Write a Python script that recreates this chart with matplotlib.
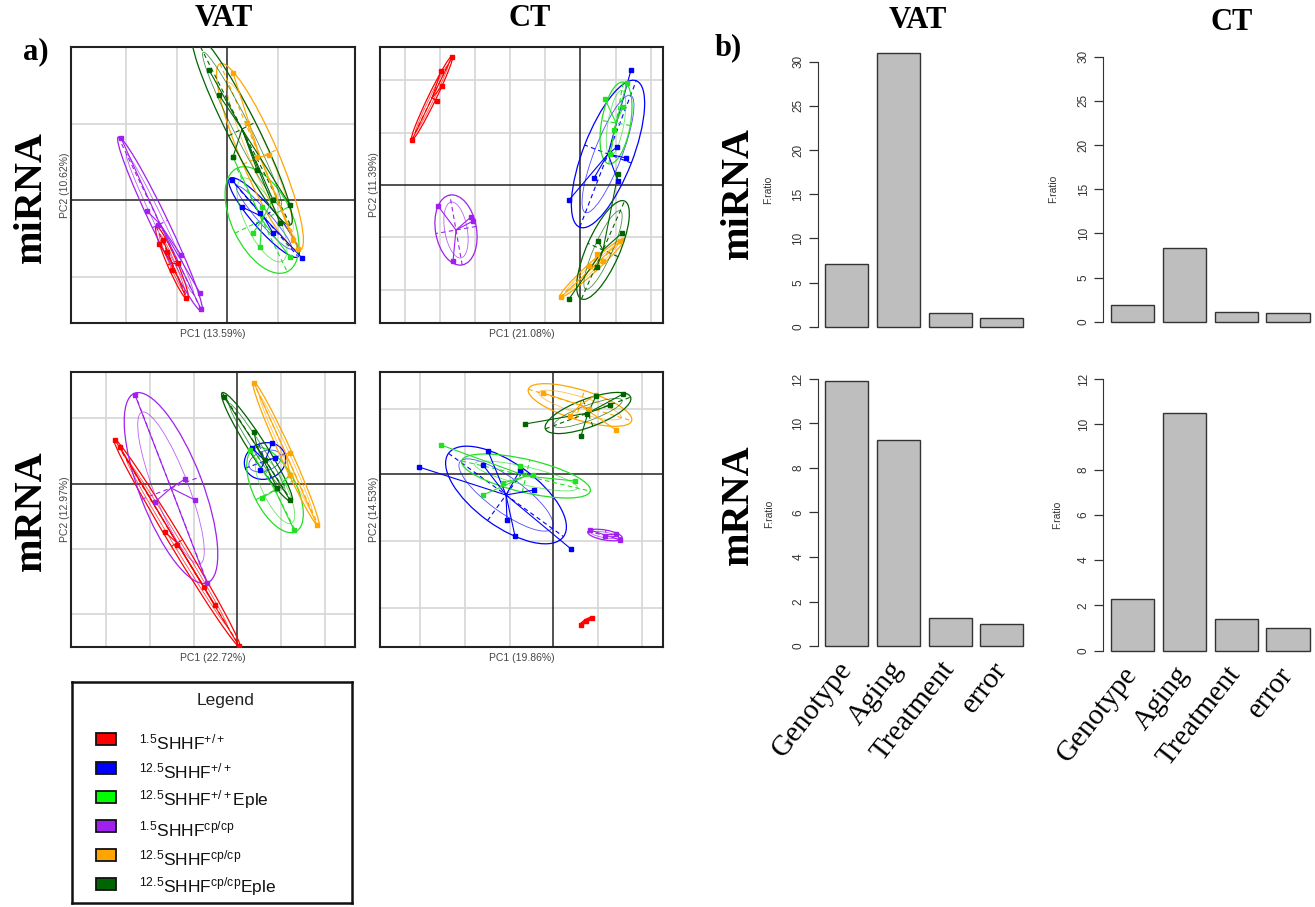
import numpy as np
import matplotlib
matplotlib.use("Agg")
import matplotlib.pyplot as plt
from matplotlib.patches import Ellipse, Rectangle

plt.rcParams['font.family'] = ['Liberation Sans', 'DejaVu Sans']
plt.rcParams['mathtext.fontset'] = 'custom'
plt.rcParams['mathtext.rm'] = 'Liberation Sans'
plt.rcParams['mathtext.it'] = 'Liberation Sans:italic'
plt.rcParams['mathtext.bf'] = 'Liberation Sans:bold'

W, H = 1315, 907

# ---------------- data ----------------
GROUPS = ['red', 'blue', 'green', 'purple', 'orange', 'darkgreen']
GROUP_COLORS = ['#ff0000', '#0000ff', '#22e022', '#a020f0', '#ffa500', '#006400']
LEGEND_COLORS = ['#ff0000', '#0000ff', '#00ff00', '#a020f0', '#ffa500', '#006400']
LEGEND_LABELS = [r'$^{\mathrm{1.5}}$SHHF$^{\mathrm{+/+}}$',
                 r'$^{\mathrm{12.5}}$SHHF$^{\mathrm{+/+}}$',
                 r'$^{\mathrm{12.5}}$SHHF$^{\mathrm{+/+}}$Eple',
                 r'$^{\mathrm{1.5}}$SHHF$^{\mathrm{cp/cp}}$',
                 r'$^{\mathrm{12.5}}$SHHF$^{\mathrm{cp/cp}}$',
                 r'$^{\mathrm{12.5}}$SHHF$^{\mathrm{cp/cp}}$Eple']

# PCA scores (PC1, PC2) per group; ellipses: (centre PC1, centre PC2, length, width, angle)
VAT_MIRNA_PTS = {
    'red': [(-6.8, -4.4), (-6.4, -4.0), (-6.0, -5.2), (-4.9, -6.3), (-4.1, -9.8), (-5.5, -7.0)],
    'blue': [(0.5, 2.0), (1.5, -0.7), (7.5, -5.8), (3.3, -1.3), (4.6, -3.3)],
    'green': [(0.6, 4.3), (2.6, -3.3), (3.3, -4.7), (3.5, -0.7), (6.3, -5.7), (4.6, 0.1)],
    'purple': [(-10.6, 6.2), (-8.0, -1.1), (-6.9, -2.5), (-4.6, -5.5), (-2.7, -9.3), (-2.6, -10.9)],
    'orange': [(0.6, 12.7), (2.0, 7.7), (3.0, 4.3), (4.2, 4.5), (6.6, -4.0), (7.1, -4.9)],
    'darkgreen': [(-1.8, 13.0), (-0.8, 10.5), (0.6, 4.3), (3.0, 3.0), (4.6, 0.0), (6.3, -0.5), (5.3, -2.3)],
}
VAT_MIRNA_ELL = {
    'red': (-5.5, -6.3, 8.0, 1.0, -66.6), 'blue': (3.7, -1.75, 10.4, 2.3, -48.9),
    'green': (3.5, -2.0, 11.5, 6.0, -64.0), 'purple': (-6.7, -2.4, 19.3, 1.7, -64.4),
    'orange': (3.3, 4.3, 20.3, 3.7, -66.8), 'darkgreen': (1.5, 7.1, 21.5, 3.0, -63.2),
}
CT_MIRNA_PTS = {
    'red': [(-16.8, 4.5), (-13.9, 11.4), (-13.8, 9.9), (-14.3, 8.4), (-12.8, 12.8)],
    'blue': [(-1.1, -1.5), (1.4, 0.7), (5.1, 11.5), (4.6, 2.7), (3.7, 3.8), (3.8, 0.4)],
    'green': [(2.5, 8.6), (4.7, 10.2), (3.0, 3.1), (4.3, 7.8), (3.4, 5.5)],
    'purple': [(-14.2, -2.1), (-10.7, -3.6), (-12.7, -7.6), (-10.9, -3.2)],
    'orange': [(-1.9, -11.2), (1.7, -6.9), (4.0, -5.6), (0.9, -8.1), (2.3, -7.6)],
    'darkgreen': [(-1.1, -11.4), (3.8, 1.1), (4.2, -4.8), (1.8, -5.6), (1.7, -8.2)],
}
CT_MIRNA_ELL = {
    'red': (-14.8, 8.7, 9.4, 0.8, 64.2), 'blue': (2.8, 3.1, 15.7, 5.0, 68.9),
    'green': (3.6, 6.2, 8.3, 2.9, 80.0), 'purple': (-12.4, -4.5, 7.1, 4.1, 100.0),
    'orange': (1.2, -8.3, 8.7, 1.0, 42.3), 'darkgreen': (2.3, -6.5, 10.7, 3.3, 66.2),
}
VAT_MRNA_PTS = {
    'red': [(-12.2, 4.4), (-11.7, 3.7), (-7.2, -4.8), (-6.0, -6.1), (-3.3, -10.3), (-2.2, -12.1), (0.2, -16.2)],
    'blue': [(1.5, 3.6), (3.8, 2.6), (2.3, 1.4), (3.5, 4.1)],
    'green': [(1.3, 3.4), (2.5, -1.4), (5.7, -4.6), (5.3, 0.9), (3.9, -0.5)],
    'purple': [(-10.2, 8.9), (-8.2, -1.8), (-5.2, 0.5), (-4.2, -1.6), (-3.0, -9.9)],
    'orange': [(1.7, 10.1), (5.3, 3.1), (8.0, -4.1), (5.3, 0.9)],
    'darkgreen': [(-1.3, 8.7), (1.7, 5.2), (4.0, -0.4), (2.8, 2.4), (5.3, -1.6)],
}
VAT_MRNA_ELL = {
    'red': (-6.0, -5.9, 24.3, 1.3, -58.8), 'blue': (2.8, 2.3, 4.2, 3.6, 20.0),
    'green': (3.8, -0.6, 9.3, 4.3, -63.4), 'purple': (-6.6, -0.4, 20.3, 6.3, -69.0),
    'orange': (4.9, 3.0, 15.9, 1.2, -65.6), 'darkgreen': (2.0, 3.7, 12.9, 1.7, -57.4),
}
CT_MRNA_PTS = {
    'red': [(2.8, -15.1), (3.9, -14.4), (3.3, -14.7)],
    'blue': [(-13.4, 0.7), (-7.0, 0.9), (-6.5, 2.3), (-3.3, 0.4), (-1.9, -1.6), (1.8, -7.5), (-4.6, -4.6), (-3.8, -6.2)],
    'green': [(-11.2, 2.9), (-7.0, -2.1), (2.2, -0.7), (-3.3, 0.8), (-2.0, -0.1), (-5.0, -0.9)],
    'purple': [(3.7, -5.6), (6.7, -6.6), (5.2, -6.2), (6.3, -6.0)],
    'orange': [(-1.0, 8.1), (6.3, 4.4), (4.3, 7.9), (1.7, 5.8), (3.6, 6.5)],
    'darkgreen': [(-2.8, 5.0), (7.0, 8.0), (2.8, 3.8), (4.3, 7.8), (5.7, 6.9), (3.4, 6.0)],
}
CT_MRNA_ELL = {
    'red': (3.3, -14.7, 1.3, 0.3, 32.0), 'blue': (-4.7, -2.1, 14.2, 6.3, -35.9),
    'green': (-2.7, -0.2, 13.2, 3.3, -13.2), 'purple': (5.2, -6.1, 3.5, 1.0, -10.0),
    'orange': (2.7, 6.9, 10.8, 3.0, -17.0), 'darkgreen': (3.5, 6.1, 9.1, 2.8, 20.4),
}
PC_LABELS = [('PC1 (13.59%)', 'PC2 (10.62%)'), ('PC1 (21.08%)', 'PC2 (11.39%)'),
             ('PC1 (22.72%)', 'PC2 (12.97%)'), ('PC1 (19.86%)', 'PC2 (14.53%)')]

CATEGORIES = ['Genotype', 'Aging', 'Treatment', 'error']
VAT_MIRNA_F = [7.1, 31.0, 1.6, 1.0]
CT_MIRNA_F = [1.9, 8.3, 1.1, 1.0]
VAT_MRNA_F = [11.9, 9.27, 1.25, 1.0]
CT_MRNA_F = [2.3, 10.5, 1.4, 1.0]

# ---------------- layout ----------------
fig = plt.figure(figsize=(W / 100, H / 100), dpi=100)


def box(x0, y0, x1, y1):
    return [x0 / W, 1 - y1 / H, (x1 - x0) / W, (y1 - y0) / H]


def draw_pca(rect, pts, ell, xlim, ylim, gx, gy, labels):
    ax = fig.add_axes(box(*rect))
    ax.set_xlim(xlim)
    ax.set_ylim(ylim)
    for v in gx:
        ax.axvline(v, color='#d6d6d6', lw=1.2, zorder=0)
    for h in gy:
        ax.axhline(h, color='#d6d6d6', lw=1.2, zorder=0)
    ax.axvline(0, color='#222222', lw=1.1, zorder=1)
    ax.axhline(0, color='#222222', lw=1.1, zorder=1)
    for g, c in zip(GROUPS, GROUP_COLORS):
        p = np.array(pts[g])
        cx, cy, L, Wd, ang = ell[g]
        ax.add_patch(Ellipse((cx, cy), L, Wd, angle=ang, fill=False, ec=c, lw=0.9, zorder=3))
        ax.add_patch(Ellipse((cx, cy), L * 0.8, Wd * 0.55, angle=ang, fill=False, ec=c, lw=0.6,
                             alpha=0.7, zorder=3))
        t = np.deg2rad(ang)
        ux, uy = np.cos(t), np.sin(t)
        ax.plot([cx - L / 2 * ux, cx + L / 2 * ux], [cy - L / 2 * uy, cy + L / 2 * uy],
                ls=(0, (4, 3)), color=c, lw=0.8, zorder=3)
        ax.plot([cx + Wd / 2 * uy, cx - Wd / 2 * uy], [cy - Wd / 2 * ux, cy + Wd / 2 * ux],
                ls=(0, (4, 3)), color=c, lw=0.8, zorder=3)
        for (x, y) in p:
            ax.plot([cx, x], [cy, y], color=c, lw=0.8, zorder=4)
        ax.plot(p[:, 0], p[:, 1], 's', ms=2.6, color=c, mec=c, zorder=5)
    ax.set_xticks([])
    ax.set_yticks([])
    for s in ax.spines.values():
        s.set_linewidth(1.5)
        s.set_color('#222222')
    w = rect[2] - rect[0]
    h = rect[3] - rect[1]
    ax.text(0.5, -11 / h, labels[0], transform=ax.transAxes, ha='center', va='center',
            fontsize=7.5, color='#444444')
    ax.text(-6 / w, 0.5, labels[1], transform=ax.transAxes, ha='center', va='center',
            rotation=90, fontsize=7.5, color='#444444')
    return ax


draw_pca((71, 47, 355, 323), VAT_MIRNA_PTS, VAT_MIRNA_ELL, (-15.6, 12.8), (-12.3, 15.3),
         [-10.1, -5.0, 5.1], [7.6, -7.7], PC_LABELS[0])
draw_pca((380, 47, 663, 323), CT_MIRNA_PTS, CT_MIRNA_ELL, (-20.0, 8.3), (-13.8, 13.8),
         [-17.5, -14.0, -10.5, -7.0, -3.5, 3.6, 7.1], [10.5, 5.2, -5.2, -10.5], PC_LABELS[1])
draw_pca((71, 372, 355, 647), VAT_MRNA_PTS, VAT_MRNA_ELL, (-16.6, 11.8), (-16.3, 11.2),
         [-13.1, -8.7, -4.3, 4.4, 8.8], [6.6, -6.5, -13.0], PC_LABELS[2])
draw_pca((380, 372, 663, 647), CT_MRNA_PTS, CT_MRNA_ELL, (-17.3, 11.0), (-17.3, 10.2),
         [-13.3, -8.8, -4.3, 4.5, 8.9], [6.5, -6.7, -13.4], PC_LABELS[3])

# legend panel
lx0, ly0, lx1, ly1 = 72, 682, 352, 903
lax = fig.add_axes(box(lx0, ly0, lx1, ly1))
lax.set_xlim(0, lx1 - lx0)
lax.set_ylim(ly1 - ly0, 0)
lax.set_xticks([])
lax.set_yticks([])
for s in lax.spines.values():
    s.set_linewidth(1.8)
    s.set_color('#111111')
lax.text(154, 18, 'Legend', ha='center', va='center', fontsize=12.5, color='#222222')
for i, (lab, col) in enumerate(zip(LEGEND_LABELS, LEGEND_COLORS)):
    yy = 57 + i * 29
    lax.add_patch(Rectangle((24, yy - 6), 20, 12, fc=col, ec='#111111', lw=1.3))
    lax.text(67, yy + 3, lab, ha='left', va='center', fontsize=12.5, color='#111111')

# bar charts
def draw_bar(rect, vals, ytop, yticks, show_labels, ylab_x):
    ax = fig.add_axes(box(*rect))
    n = len(vals)
    xpos = 0.2 + np.arange(n) * 1.2 + 0.5
    ax.bar(xpos, vals, width=1.0, color='#bebebe', edgecolor='#333333', lw=1.0)
    span = 1.2 * n - 0.2
    ax.set_xlim(0.2 - 0.04 * span, 0.2 + span + 0.04 * span)
    ax.set_ylim(-0.04 * ytop, 1.04 * ytop)
    for s in ['top', 'right', 'bottom']:
        ax.spines[s].set_visible(False)
    ax.spines['left'].set_bounds(0, yticks[-1])
    ax.spines['left'].set_color('#333333')
    ax.set_yticks(yticks)
    ax.set_yticklabels([str(t) for t in yticks], rotation=90, va='center', fontsize=8.5,
                       color='#333333')
    ax.tick_params(axis='y', length=6.5, width=0.9, pad=3, colors='#333333')
    if show_labels:
        ax.set_xticks(xpos)
        ax.set_xticklabels(CATEGORIES, rotation=52, ha='right', va='center',
                           rotation_mode='anchor', fontsize=21, family='Liberation Serif')
        ax.tick_params(axis='x', length=0, pad=6)
    else:
        ax.set_xticks([])
    ax.text(ylab_x, 0.5, 'F.ratio', transform=ax.transAxes, rotation=90, ha='center',
            va='center', fontsize=7.5, color='#333333')
    return ax


draw_bar((817.5, 41.9, 1031, 337.7), VAT_MIRNA_F, max(VAT_MIRNA_F), [0, 5, 10, 15, 20, 25, 30],
         False, -0.233)
draw_bar((1103, 46.1, 1317.5, 332.3), CT_MIRNA_F, 30, [0, 5, 10, 15, 20, 25, 30],
         False, -0.233)
draw_bar((817.5, 370.6, 1031, 656.6), VAT_MRNA_F, max(VAT_MRNA_F), [0, 2, 4, 6, 8, 10, 12],
         True, -0.226)
draw_bar((1103, 368.1, 1317.5, 661.6), CT_MRNA_F, 12, [0, 2, 4, 6, 8, 10, 12],
         True, -0.215)

# headings
serif = dict(family='Liberation Serif', weight='bold', color='black')
fig.text(224 / W, 1 - 18 / H, 'VAT', ha='center', va='center', fontsize=22, **serif)
fig.text(530 / W, 1 - 18 / H, 'CT', ha='center', va='center', fontsize=22, **serif)
fig.text(918 / W, 1 - 20 / H, 'VAT', ha='center', va='center', fontsize=22, **serif)
fig.text(1232 / W, 1 - 22 / H, 'CT', ha='center', va='center', fontsize=22, **serif)
fig.text(36 / W, 1 - 52 / H, 'a)', ha='center', va='center', fontsize=22, **serif)
fig.text(728 / W, 1 - 48 / H, 'b)', ha='center', va='center', fontsize=22, **serif)
fig.text(31 / W, 1 - 197 / H, 'miRNA', ha='center', va='center', rotation=90, fontsize=29, **serif)
fig.text(31 / W, 1 - 511 / H, 'mRNA', ha='center', va='center', rotation=90, fontsize=29, **serif)
fig.text(738 / W, 1 - 193 / H, 'miRNA', ha='center', va='center', rotation=90, fontsize=29, **serif)
fig.text(738 / W, 1 - 505 / H, 'mRNA', ha='center', va='center', rotation=90, fontsize=29, **serif)

fig.savefig('out.png', dpi=100, facecolor='white')
